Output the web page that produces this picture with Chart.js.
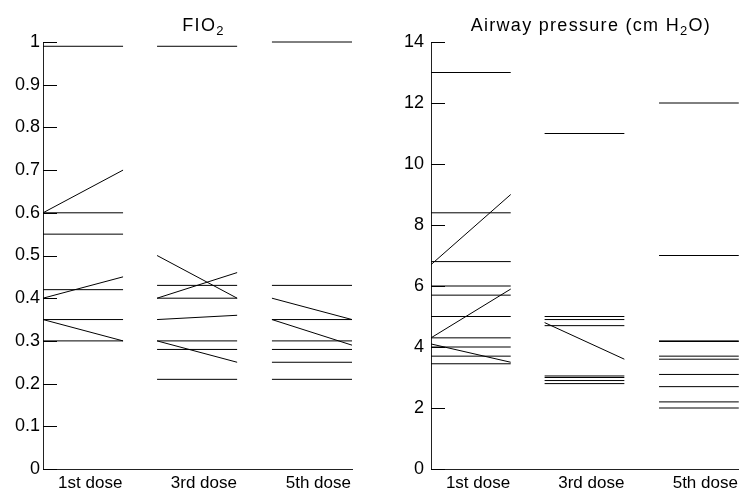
<!DOCTYPE html>
<html>
<head>
<meta charset="utf-8">
<script src="https://cdn.jsdelivr.net/npm/chart.js@4"></script>
<style>
  html, body { margin: 0; padding: 0; background: #fff; }
  #wrap { position: relative; width: 742px; height: 493px; }
  canvas { position: absolute; top: 0; }
</style>
</head>
<body>
<div id="wrap">
  <canvas id="chartFio2" width="371" height="493" style="left:0"></canvas>
  <canvas id="chartAirway" width="371" height="493" style="left:371px"></canvas>
</div>
<script>
// categorias del eje x
const doses = ['1st dose', '3rd dose', '5th dose'];

// FIO2: pares [inicio, fin] por paciente y dosis
const fio2Dose1 = [[0.99, 0.99], [0.6, 0.7], [0.6, 0.6], [0.55, 0.55], [0.42, 0.42], [0.4, 0.45], [0.35, 0.35], [0.35, 0.3], [0.3, 0.3]];
const fio2Dose3 = [[0.99, 0.99], [0.5, 0.4], [0.4, 0.46], [0.43, 0.43], [0.4, 0.4], [0.35, 0.36], [0.3, 0.3], [0.3, 0.25], [0.28, 0.28], [0.21, 0.21]];
const fio2Dose5 = [[1, 1], [0.43, 0.43], [0.4, 0.35], [0.35, 0.35], [0.35, 0.29], [0.3, 0.3], [0.28, 0.28], [0.25, 0.25], [0.21, 0.21]];

// Presion de via aerea (cm H2O)
const airwayDose1 = [[13, 13], [8.4, 8.4], [6.7, 9.0], [6.8, 6.8], [6.0, 6.0], [5.7, 5.7], [4.3, 5.9], [5.0, 5.0], [4.3, 4.3], [4.1, 3.5], [4.0, 4.0], [3.7, 3.7], [3.45, 3.45]];
const airwayDose3 = [[11, 11], [5.0, 5.0], [4.9, 4.9], [4.7, 4.7], [4.8, 3.6], [3.05, 3.05], [3.0, 3.0], [2.9, 2.9], [2.8, 2.8]];
const airwayDose5 = [[12, 12], [7.0, 7.0], [4.2, 4.2], [4.18, 4.18], [3.7, 3.7], [3.6, 3.6], [3.1, 3.1], [2.7, 2.7], [2.2, 2.2], [2.0, 2.0]];

// escala del eje y
const fio2Max = 1, fio2Step = 0.1;
const airwayMax = 14, airwayStep = 2;

// posicion de cada grupo en el eje x (unidades de la escala)
const groupStart = [0, 1.425, 2.86];
const groupWidth = 1;
const labelPos = [0.59, 2.01, 3.44];
const xMax = 3.86;

const FONT = '"Liberation Sans", Arial, Helvetica, sans-serif';

/**
 * Construye los datasets de segmentos a partir de los pares
 */
function construirSegmentos(grupos) {
    const datasets = [];
    grupos.forEach((pares, i) => {
        pares.forEach(p => {
            datasets.push({
                data: [
                    { x: groupStart[i], y: p[0] },
                    { x: groupStart[i] + groupWidth, y: p[1] }
                ],
                showLine: true,
                borderColor: '#000',
                borderWidth: 1,
                pointRadius: 0,
                pointHoverRadius: 0,
                clip: false
            });
        });
    });
    return datasets;
}

// marcas del eje y dibujadas hacia dentro
const marcasInternas = {
    id: 'marcasInternas',
    afterDatasetsDraw(chart) {
        const ctx = chart.ctx;
        const y = chart.scales.y;
        const left = chart.chartArea.left;
        ctx.save();
        ctx.strokeStyle = '#000';
        ctx.lineWidth = 1;
        y.ticks.forEach(t => {
            const py = Math.round(y.getPixelForValue(t.value)) + 0.5;
            ctx.beginPath();
            ctx.moveTo(left, py);
            ctx.lineTo(left + 14, py);
            ctx.stroke();
        });
        ctx.restore();
    }
};

// titulo con subindice
const tituloSub = {
    id: 'tituloSub',
    afterDraw(chart, args, opts) {
        const ctx = chart.ctx;
        const partes = opts.parts || [];
        ctx.save();
        ctx.fillStyle = '#000';
        ctx.textBaseline = 'alphabetic';
        ctx.letterSpacing = '1.3px';
        let total = 0;
        partes.forEach(p => {
            ctx.font = (p.sub ? '13px ' : '18px ') + FONT;
            total += ctx.measureText(p.text).width;
        });
        let x = (chart.chartArea.left + chart.chartArea.right) / 2 + 6 - total / 2;
        partes.forEach(p => {
            ctx.font = (p.sub ? '13px ' : '18px ') + FONT;
            ctx.fillText(p.text, x, p.sub ? 35 : 31);
            x += ctx.measureText(p.text).width;
        });
        ctx.restore();
    }
};

function crearPanel(id, grupos, yMax, yStep, anchoEjeY, padEtiqueta, padDerecha, titulo) {
    const ctx = document.getElementById(id).getContext('2d');
    new Chart(ctx, {
        type: 'scatter',
        data: { datasets: construirSegmentos(grupos) },
        options: {
            responsive: false,
            animation: false,
            devicePixelRatio: 1,
            layout: { padding: { top: 42, right: padDerecha, left: 0, bottom: 0 } },
            plugins: {
                legend: { display: false },
                tooltip: { enabled: false },
                tituloSub: { parts: titulo }
            },
            scales: {
                x: {
                    type: 'linear',
                    min: 0,
                    max: xMax,
                    grid: { display: false, drawTicks: false },
                    border: { display: true, color: '#222', width: 1 },
                    afterBuildTicks: (scale) => {
                        scale.ticks = labelPos.map(v => ({ value: v }));
                    },
                    afterFit: (scale) => { scale.height = 24; },
                    ticks: {
                        autoSkip: false,
                        maxRotation: 0,
                        padding: 4,
                        color: '#000',
                        font: { family: FONT, size: 17 },
                        callback: (value, index) => doses[index]
                    }
                },
                y: {
                    min: 0,
                    max: yMax,
                    grid: { display: false, drawTicks: false },
                    border: { display: true, color: '#222', width: 1 },
                    afterFit: (scale) => { scale.width = anchoEjeY; },
                    ticks: {
                        stepSize: yStep,
                        padding: padEtiqueta,
                        color: '#000',
                        font: { family: FONT, size: 18 },
                        callback: (value) => String(Number(value.toFixed(2)))
                    }
                }
            }
        },
        plugins: [marcasInternas, tituloSub]
    });
}

crearPanel('chartFio2', [fio2Dose1, fio2Dose3, fio2Dose5], fio2Max, fio2Step, 43, 3, 19,
    [{ text: 'FIO' }, { text: '2', sub: true }]);
crearPanel('chartAirway', [airwayDose1, airwayDose3, airwayDose5], airwayMax, airwayStep, 60, 7, 1,
    [{ text: 'Airway pressure (cm H' }, { text: '2', sub: true }, { text: 'O)' }]);
</script>
</body>
</html>
